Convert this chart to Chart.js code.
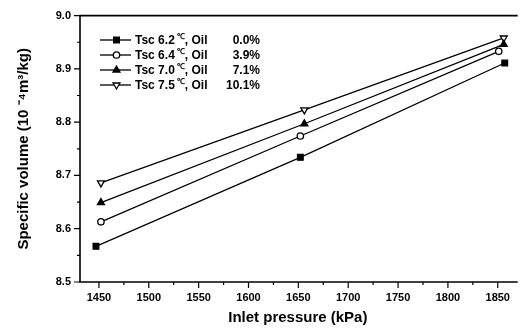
<!DOCTYPE html>
<html>
<head>
<meta charset="utf-8">
<script src="https://cdn.jsdelivr.net/npm/chart.js@4.4.0/dist/chart.umd.min.js"></script>
<style>
  html, body { margin: 0; padding: 0; background: #fff; }
  #wrap { width: 521px; height: 331px; position: relative; }
</style>
</head>
<body>
<div id="wrap"><canvas id="myChart" width="521" height="331"></canvas></div>
<script>
// inlet pressure (kPa) and specific volume (10^-4 m3/kg) per case
var pressSq  = [1447, 1652, 1857];
var volSq    = [8.567, 8.734, 8.911];
var pressCi  = [1452, 1652, 1851];
var volCi    = [8.613, 8.774, 8.933];
var pressTu  = [1452, 1656, 1856];
var volTu    = [8.649, 8.797, 8.946];
var pressTd  = [1452, 1656, 1856];
var volTd    = [8.686, 8.823, 8.958];

var tscLabels = ['6.2', '6.4', '7.0', '7.5'];
var oilLabels = ['0.0%', '3.9%', '7.1%', '10.1%'];

var xTicks = [1450, 1500, 1550, 1600, 1650, 1700, 1750, 1800, 1850];
var yTicks = [8.5, 8.6, 8.7, 8.8, 8.9, 9.0];

var FONT = '"Liberation Sans", Arial, sans-serif';

function pts(xs, ys) {
    return xs.map((x, i) => ({ x: x, y: ys[i] }));
}

function makeSet(label, xs, ys, style, fill, rot) {
    return {
        label: label,
        data: pts(xs, ys),
        borderColor: '#000',
        borderWidth: 1.3,
        backgroundColor: fill,
        pointStyle: style,
        pointRotation: rot || 0,
        pointRadius: style == 'circle' ? 3.2 : 4,
        pointBorderColor: '#000',
        pointBorderWidth: 1.3,
        pointBackgroundColor: fill,
        tension: 0
    };
}

// frame, minor ticks and in-plot legend
var framePlugin = {
    id: 'frame',
    afterDraw(chart) {
        const ctx = chart.ctx;
        const a = chart.chartArea;
        const xs = chart.scales.x, ys = chart.scales.y;
        ctx.save();
        ctx.strokeStyle = '#000';
        ctx.lineWidth = 1.6;
        ctx.beginPath();
        ctx.moveTo(a.right + 2, a.top);
        ctx.lineTo(a.left, a.top);
        ctx.lineTo(a.left, a.bottom);
        ctx.lineTo(a.right + 2, a.bottom);
        ctx.stroke();

        ctx.lineWidth = 1.2;
        ctx.beginPath();
        for (let v = 1450; v <= 1875; v += 25) {
            const px = xs.getPixelForValue(v);
            if (px > a.right) break;
            const len = (v % 50 == 0) ? 6 : 3;
            ctx.moveTo(px, a.bottom);
            ctx.lineTo(px, a.bottom + len);
        }
        for (let k = 0; k <= 10; k++) {
            const v = 8.5 + k * 0.05;
            const py = ys.getPixelForValue(v);
            const len = (k % 2 == 0) ? 6 : 3;
            ctx.moveTo(a.left, py);
            ctx.lineTo(a.left - len, py);
        }
        ctx.stroke();

        // legend
        const x0 = 100, x1 = 131, tx = 135, pr = 260;
        const rowY = [40, 55, 70, 85];
        chart.data.datasets.forEach((ds, i) => {
            const y = rowY[i];
            ctx.strokeStyle = '#000';
            ctx.lineWidth = 1.3;
            ctx.beginPath();
            ctx.moveTo(x0, y);
            ctx.lineTo(x1, y);
            ctx.stroke();
            ctx.fillStyle = ds.pointBackgroundColor;
            ctx.strokeStyle = '#000';
            ctx.lineWidth = 1.3;
            Chart.helpers.drawPoint(ctx, {
                pointStyle: ds.pointStyle,
                rotation: ds.pointRotation,
                radius: ds.pointRadius,
                borderWidth: 1.3
            }, (x0 + x1) / 2 + 1, y);

            ctx.fillStyle = '#000';
            ctx.textBaseline = 'middle';
            ctx.textAlign = 'left';
            ctx.font = 'bold 12px ' + FONT;
            const part1 = 'Tsc ' + tscLabels[i];
            ctx.fillText(part1, tx, y + 1);
            let w = ctx.measureText(part1).width;
            ctx.font = 'bold 8px ' + FONT;
            ctx.fillText('℃', tx + w + 2, y - 3);
            const w2 = ctx.measureText('℃').width;
            ctx.font = 'bold 12px ' + FONT;
            ctx.fillText(', Oil', tx + w + w2 + 2, y + 1);
            ctx.textAlign = 'right';
            ctx.fillText(oilLabels[i], pr, y + 1);
        });
        ctx.restore();
    }
};

function createChart() {
    var ctx = document.getElementById('myChart').getContext('2d');
    var myChart = new Chart(ctx, {
        type: 'line',
        data: {
            datasets: [
                makeSet('Tsc 6.2', pressSq, volSq, 'rect', '#000'),
                makeSet('Tsc 6.4', pressCi, volCi, 'circle', '#fff'),
                makeSet('Tsc 7.0', pressTu, volTu, 'triangle', '#000'),
                makeSet('Tsc 7.5', pressTd, volTd, 'triangle', '#fff', 180)
            ]
        },
        options: {
            responsive: false,
            animation: false,
            layout: { padding: { top: 9, right: 0, left: 0, bottom: 0 } },
            plugins: {
                legend: { display: false },
                tooltip: { enabled: false }
            },
            scales: {
                x: {
                    type: 'linear',
                    min: 1431,
                    max: 1868,
                    afterBuildTicks: s => { s.ticks = xTicks.map(v => ({ value: v })); },
                    afterFit: s => { s.height = 49; },
                    grid: { display: false, drawTicks: false },
                    border: { display: false },
                    ticks: {
                        color: '#000',
                        padding: 9,
                        maxRotation: 0,
                        callback: v => String(v),
                        font: { family: FONT, size: 11, weight: 'bold' }
                    },
                    title: {
                        display: true,
                        text: 'Inlet pressure (kPa)',
                        color: '#000',
                        padding: { top: 7 },
                        font: { family: FONT, size: 15, weight: 'bold' }
                    }
                },
                y: {
                    min: 8.5,
                    max: 9.0,
                    afterBuildTicks: s => { s.ticks = yTicks.map(v => ({ value: v })); },
                    afterFit: s => { s.width = 80; },
                    grid: { display: false, drawTicks: false },
                    border: { display: false },
                    ticks: {
                        color: '#000',
                        padding: 9,
                        callback: v => v.toFixed(1),
                        font: { family: FONT, size: 11, weight: 'bold' }
                    },
                    title: {
                        display: true,
                        text: 'Specific volume (10 \u207B\u2074m\u00B3/kg)',
                        color: '#000',
                        padding: { top: 15, bottom: 0 },
                        font: { family: FONT, size: 15, weight: 'bold' }
                    }
                }
            }
        },
        plugins: [framePlugin]
    });
    return myChart;
}

createChart();
</script>
</body>
</html>
